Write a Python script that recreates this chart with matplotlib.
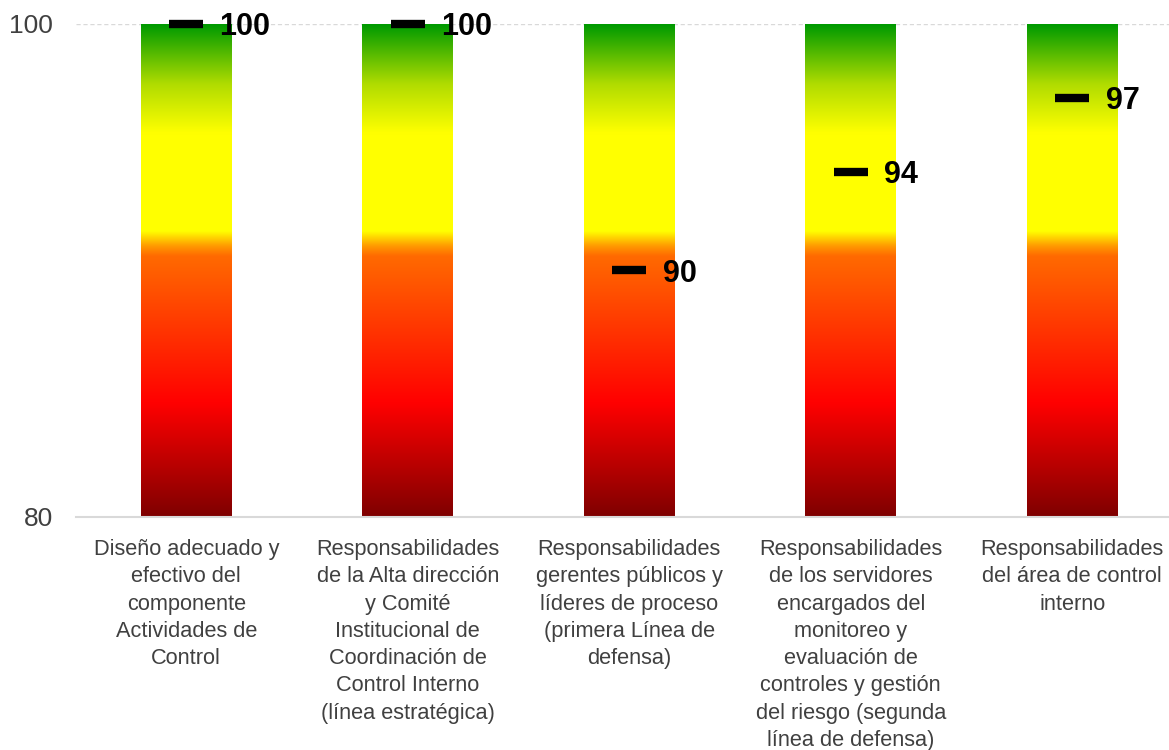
import numpy as np
import matplotlib
matplotlib.use("Agg")
import matplotlib.pyplot as plt
from matplotlib.colors import LinearSegmentedColormap

plt.rcParams['font.family'] = ['Liberation Sans', 'DejaVu Sans']

# Componentes evaluados y su calificacion
categorias = [
    "Diseño adecuado y\nefectivo del\ncomponente\nActividades de\nControl",
    "Responsabilidades\nde la Alta dirección\ny Comité\nInstitucional de\nCoordinación de\nControl Interno\n(línea estratégica)",
    "Responsabilidades\ngerentes públicos y\nlíderes de proceso\n(primera Línea de\ndefensa)",
    "Responsabilidades\nde los servidores\nencargados del\nmonitoreo y\nevaluación de\ncontroles y gestión\ndel riesgo (segunda\nlínea de defensa)",
    "Responsabilidades\ndel área de control\ninterno",
]
calificacion = [100, 100, 90, 94, 97]
escala_max = [100, 100, 100, 100, 100]
escala_min = 80
y_ticks = [80, 100]

# semaforo: rojo oscuro abajo -> verde arriba
semaforo = LinearSegmentedColormap.from_list("semaforo", [
    (0.00, "#7f0000"),
    (0.23, "#ff0000"),
    (0.53, "#ff6a00"),
    (0.55, "#ff9a00"),
    (0.58, "#ffff00"),
    (0.78, "#ffff00"),
    (0.88, "#b0dc00"),
    (1.00, "#009a00"),
])

fig = plt.figure(figsize=(11.69, 7.5), dpi=100)
ax = fig.add_axes([0.0646, 0.3107, 0.9474, 0.6573])

x = np.arange(len(categorias))
barras = ax.bar(x, np.array(escala_max) - escala_min, bottom=escala_min,
                width=0.41, facecolor="none", edgecolor="none", zorder=2)

grad = np.linspace(0, 1, 256).reshape(-1, 1)
for b in barras:
    x0, y0 = b.get_x(), b.get_y()
    img = ax.imshow(grad, cmap=semaforo, origin="lower", aspect="auto",
                    extent=[x0, x0 + b.get_width(), y0, y0 + b.get_height()],
                    zorder=2, interpolation="bilinear")
    img.set_clip_path(b)

ax.plot(x, calificacion, ls="none", marker="_", ms=25, mew=6,
        color="black", zorder=4, clip_on=False)
for xi, v in zip(x, calificacion):
    ax.annotate(str(v), (xi, v), xytext=(24, 0), textcoords="offset points",
                ha="left", va="center_baseline", fontsize=22, fontweight="bold",
                color="black", zorder=5, annotation_clip=False)

ax.set_xlim(-0.5, len(categorias) - 0.5)
ax.set_ylim(escala_min, 100)
ax.set_yticks(y_ticks)
ax.set_xticks(x)
ax.set_xticklabels(categorias, fontsize=15.7, color="#404040", linespacing=1.39)
ax.tick_params(axis="x", length=0, pad=16)
ax.tick_params(axis="y", length=0, pad=16, labelsize=19, labelcolor="#404040")

ax.axhline(100, color="#d9d9d9", lw=1, ls=(0, (3, 2)), zorder=1)
for s in ["top", "right", "left"]:
    ax.spines[s].set_visible(False)
ax.spines["bottom"].set_color("#d9d9d9")
ax.spines["bottom"].set_linewidth(1.5)

fig.savefig("out.png", dpi=100)
